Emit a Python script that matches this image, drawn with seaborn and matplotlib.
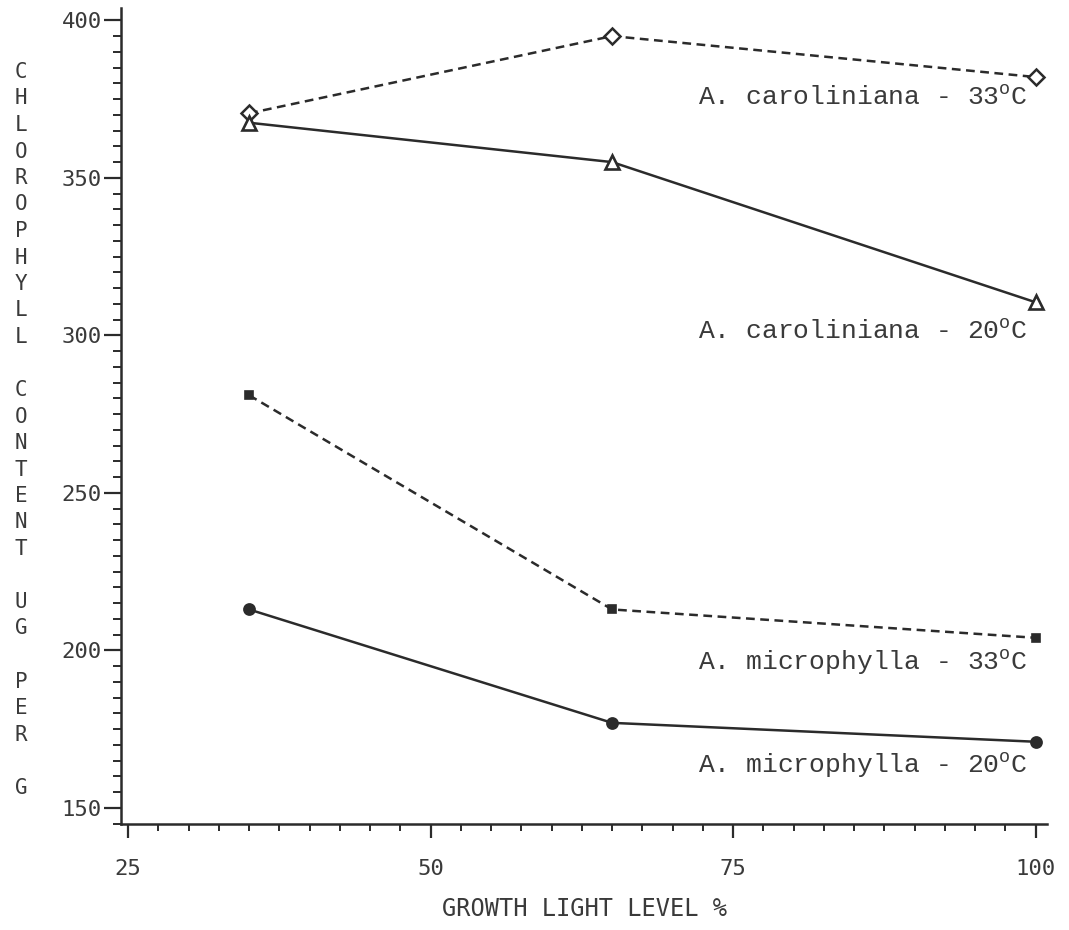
import matplotlib
matplotlib.use("Agg")
import matplotlib.pyplot as plt
from matplotlib.ticker import MultipleLocator
import seaborn as sns
import pandas as pd

# Growth light levels (% of full light)
light_levels = [35, 65, 100]

# Chlorophyll content (ug per g) for each species / temperature
caroliniana_33 = [370.5, 395.0, 382.0]
caroliniana_20 = [367.5, 355.0, 310.5]
microphylla_33 = [281.0, 213.0, 204.0]
microphylla_20 = [213.0, 177.0, 171.0]

series_names = [
    "A. caroliniana - 33$^\\mathrm{o}$C",
    "A. caroliniana - 20$^\\mathrm{o}$C",
    "A. microphylla - 33$^\\mathrm{o}$C",
    "A. microphylla - 20$^\\mathrm{o}$C",
]
series_values = [caroliniana_33, caroliniana_20, microphylla_33, microphylla_20]
label_baselines = [373.3, 299.0, 193.8, 161.1]

x_ticks = [25, 50, 75, 100]
y_ticks = [150, 200, 250, 300, 350, 400]
x_label = "GROWTH LIGHT LEVEL %"
y_label = "CHLOROPHYLL CONTENT UG PER G"

sns.set_theme(style="ticks")
plt.rcParams["font.family"] = ["DejaVu Sans Mono", "DejaVu Sans"]
plt.rcParams["mathtext.fontset"] = "custom"
plt.rcParams["mathtext.rm"] = "Liberation Mono"

ink = "#2b2b2b"
text_ink = "#3a3a3a"

rows = []
for name, vals in zip(series_names, series_values):
    for x, v in zip(light_levels, vals):
        rows.append({"series": name, "light": x, "chl": v})
df = pd.DataFrame(rows)

fig = plt.figure(figsize=(10.69, 9.30), dpi=100)
ax = fig.add_axes([0.1132, 0.114, 0.8658, 0.877])

styles = [
    dict(linestyle=(0, (3.5, 2.2)), marker="D", markersize=8.5, mfc="white", mew=1.8),
    dict(linestyle="-", marker="^", markersize=10, mfc="white", mew=1.9),
    dict(linestyle=(0, (3.5, 2.2)), marker="s", markersize=5.5, mfc=ink, mew=1.2),
    dict(linestyle="-", marker="o", markersize=8, mfc=ink, mew=1.2),
]

for name, st in zip(series_names, styles):
    sub = df[df["series"] == name]
    sns.lineplot(
        data=sub, x="light", y="chl", ax=ax, color=ink, linewidth=1.8,
        linestyle=st["linestyle"], marker=st["marker"], markersize=st["markersize"],
        markerfacecolor=st["mfc"], markeredgecolor=ink, markeredgewidth=st["mew"],
        legend=False, estimator=None, sort=False,
    )

for name, yb in zip(series_names, label_baselines):
    ax.text(99.3, yb, name, ha="right", va="baseline", fontsize=19,
            family="Liberation Mono", color=text_ink)

ax.set_xlim(24.42, 100.9)
ax.set_ylim(144.9, 403.8)
ax.set_xticks(x_ticks)
ax.set_yticks(y_ticks)
ax.xaxis.set_minor_locator(MultipleLocator(2.5))
ax.yaxis.set_minor_locator(MultipleLocator(5))

for side in ("top", "right"):
    ax.spines[side].set_visible(False)
for side in ("left", "bottom"):
    ax.spines[side].set_linewidth(1.8)
    ax.spines[side].set_color(ink)

ax.tick_params(axis="y", which="major", direction="out", length=12, width=1.6,
               color=ink, pad=2, labelsize=16, labelcolor=text_ink)
ax.tick_params(axis="y", which="minor", direction="out", length=6, width=1.4, color=ink)
ax.tick_params(axis="x", which="major", direction="out", length=10, width=1.6,
               color=ink, pad=15, labelsize=16, labelcolor=text_ink)
ax.tick_params(axis="x", which="minor", direction="out", length=5, width=1.4, color=ink)

ax.set_xlabel("")
ax.set_ylabel("")

# Horizontal axis title
fig.text(584 / 1069, 1 - 909 / 930, x_label, ha="center", va="center",
         fontsize=17, color=text_ink)

# Vertical axis title drawn as stacked upright letters
top_px, step_px = 72, 26.5
for i, ch in enumerate(y_label):
    if ch == " ":
        continue
    fig.text(21 / 1069, 1 - (top_px + i * step_px) / 930, ch, ha="center",
             va="center", fontsize=15, color=text_ink)

fig.savefig("out.png", dpi=100, facecolor="white")
